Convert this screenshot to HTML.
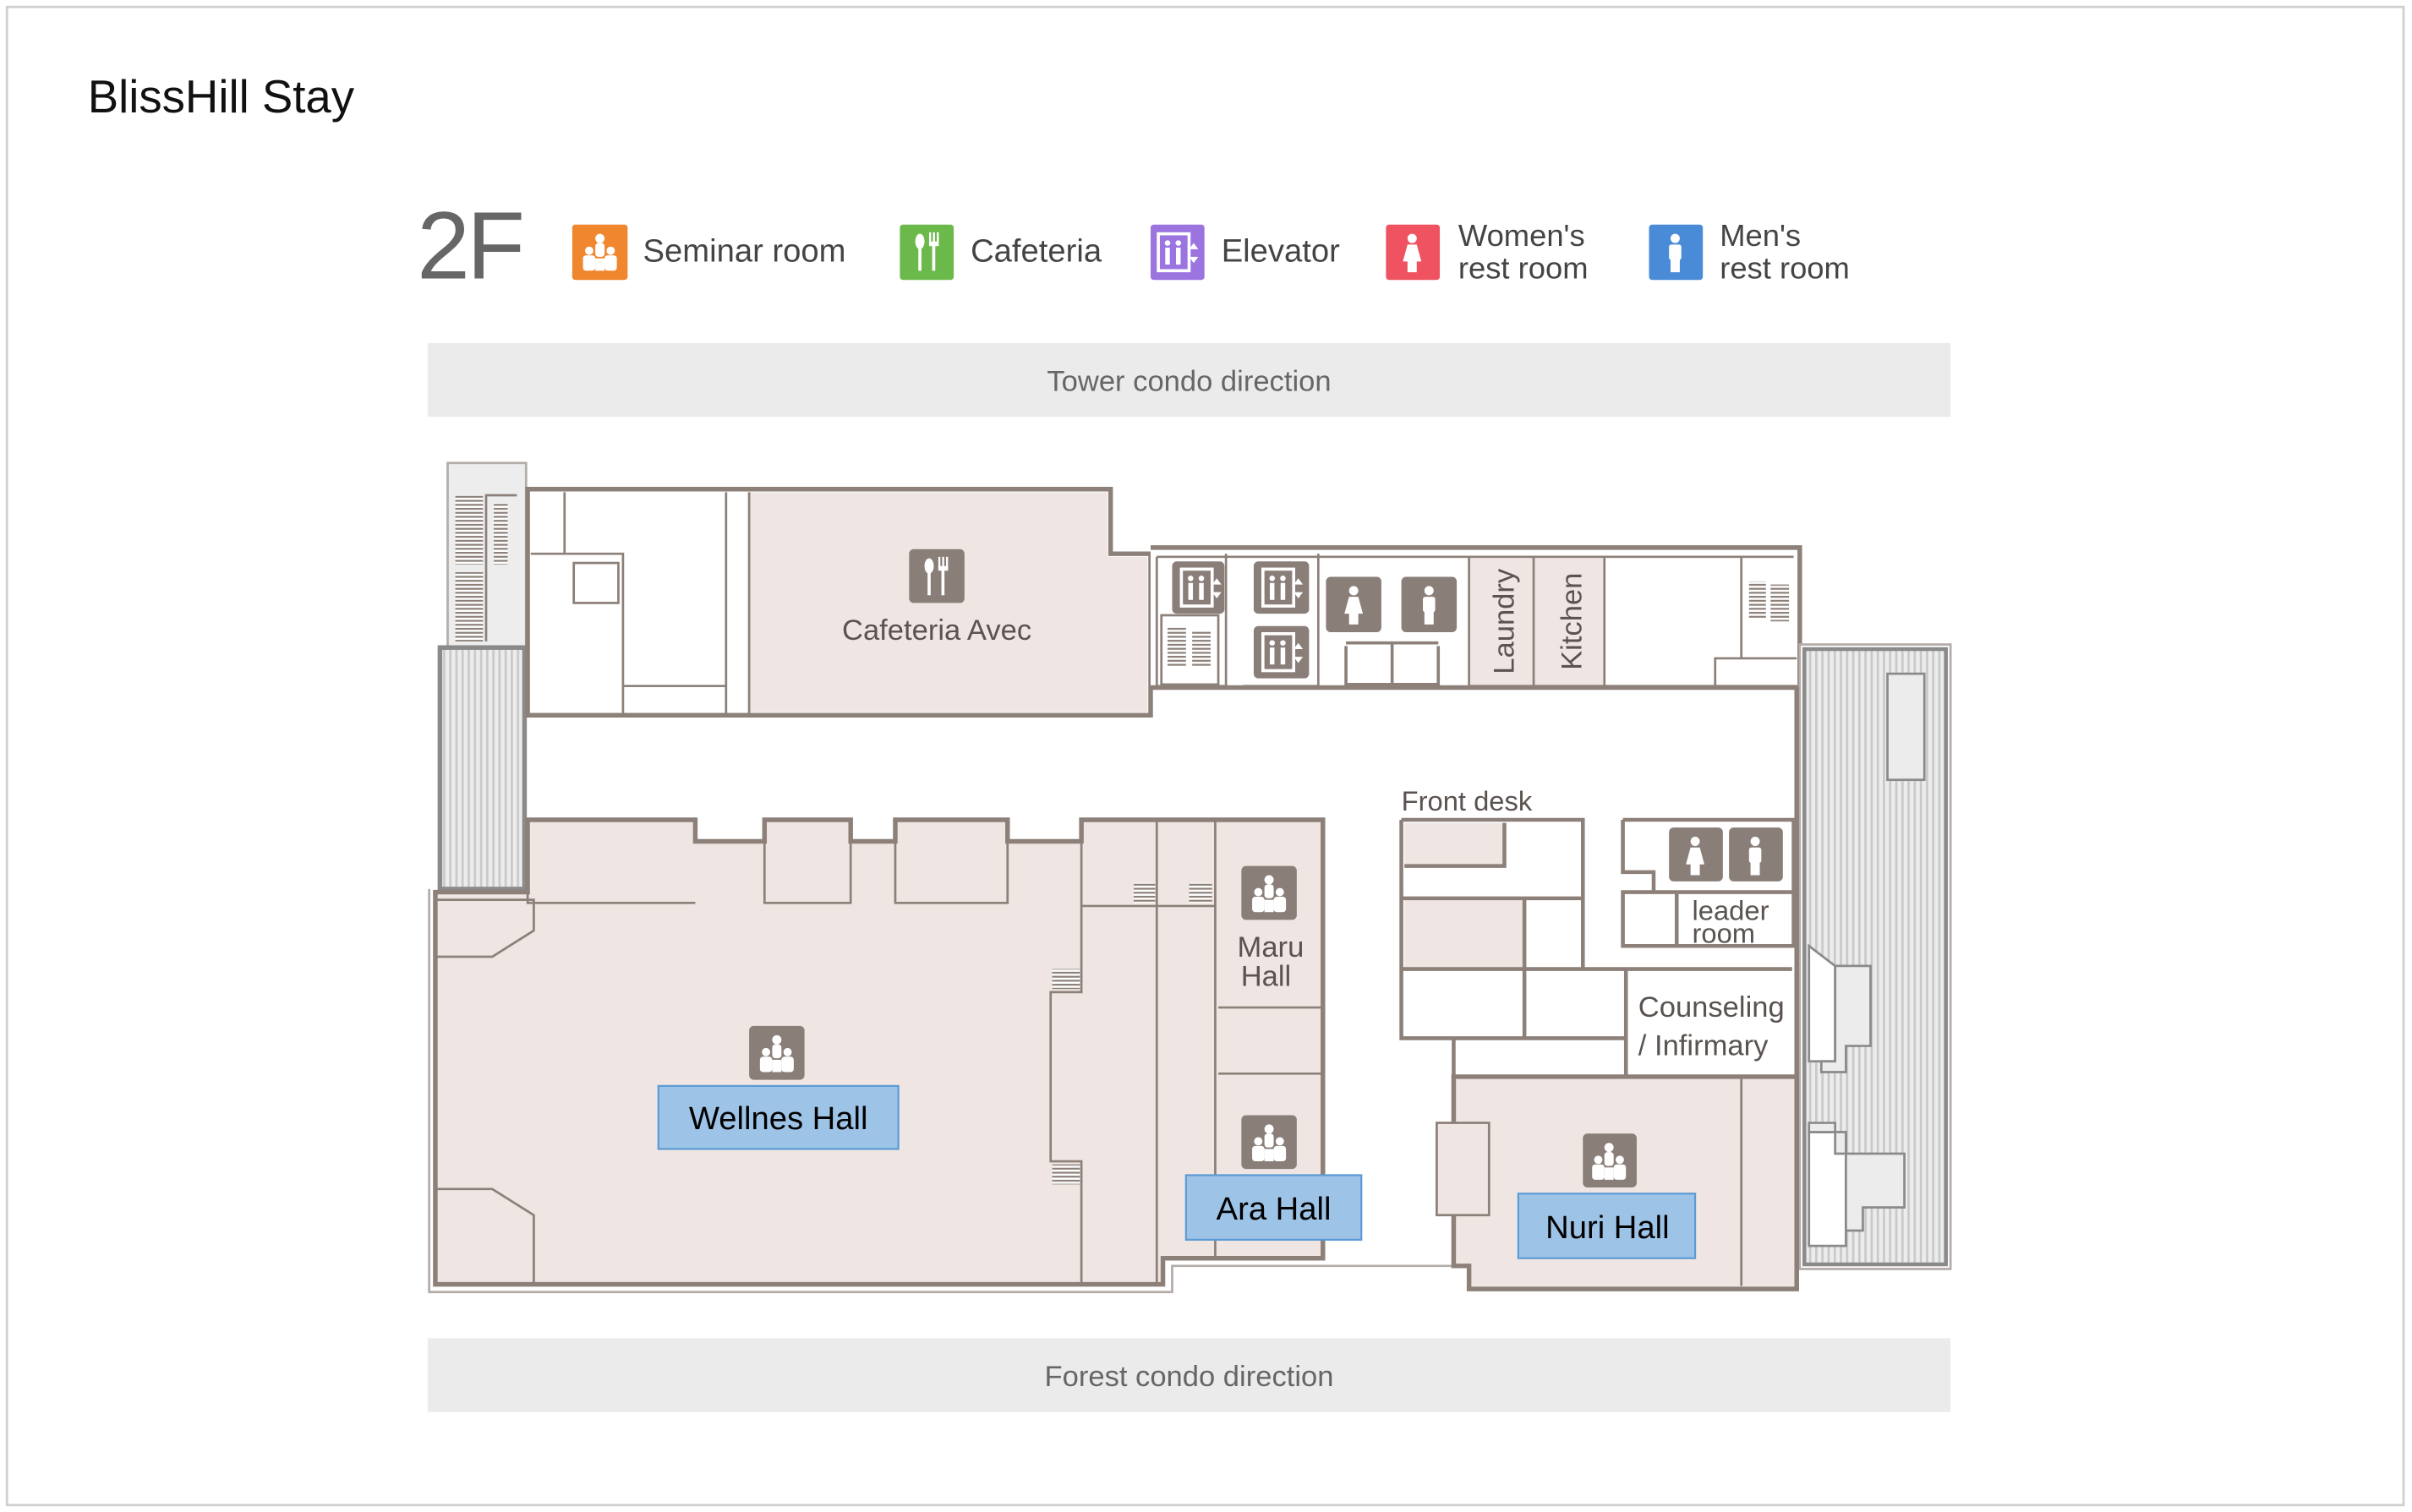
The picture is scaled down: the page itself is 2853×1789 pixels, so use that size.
<!DOCTYPE html>
<html><head><meta charset="utf-8"><style>
html,body{margin:0;padding:0;background:#fff;}
svg{display:block;}
text{font-family:"Liberation Sans","DejaVu Sans",sans-serif;}
</style></head><body>
<svg width="2853" height="1789" viewBox="0 0 1568 983" preserveAspectRatio="none" xmlns="http://www.w3.org/2000/svg">
<defs>
<pattern id="hatch" width="4" height="10" patternUnits="userSpaceOnUse">
<rect width="4" height="10" fill="#ececec"/><rect width="1.5" height="10" fill="#c9c9c9"/>
</pattern>
<pattern id="hz" width="10" height="2.6" patternUnits="userSpaceOnUse">
<rect width="10" height="2.6" fill="#fff"/><rect width="10" height="1.2" fill="#8c8079"/>
</pattern>
<g id="sem"><circle cx="18" cy="9" r="3" fill="#fff"/><rect x="15" y="12" width="6" height="9" rx="2" fill="#fff"/><circle cx="11" cy="17" r="2.7" fill="#fff"/><circle cx="25" cy="17" r="2.7" fill="#fff"/><rect x="7" y="20" width="8" height="10" rx="2" fill="#fff"/><rect x="21" y="20" width="8" height="10" rx="2" fill="#fff"/><rect x="15" y="22" width="6" height="8" fill="#fff"/></g>
<g id="cafe"><ellipse cx="13" cy="11" rx="3" ry="5" fill="#fff"/><rect x="12" y="14" width="2" height="16" fill="#fff"/><rect x="19" y="5" width="1.3" height="8" fill="#fff"/><rect x="21.5" y="5" width="1.3" height="8" fill="#fff"/><rect x="24" y="5" width="1.3" height="8" fill="#fff"/><rect x="19" y="11" width="6.3" height="3" fill="#fff"/><rect x="21" y="13" width="2" height="17" fill="#fff"/></g>
<g id="elev"><rect x="5" y="6" width="20" height="24" fill="none" stroke="#fff" stroke-width="2"/><circle cx="11" cy="12" r="1.8" fill="#fff"/><circle cx="18" cy="12" r="1.8" fill="#fff"/><rect x="9.5" y="15" width="3" height="11" fill="#fff"/><rect x="16.5" y="15" width="3" height="11" fill="#fff"/><path d="M28 12 l3 4 h-6z M28 25 l3 -4 h-6z" fill="#fff"/></g>
<g id="wom"><circle cx="18" cy="9" r="3" fill="#fff"/><path d="M15 13 h6 l3 11 h-3 v7 h-6 v-7 h-3z" fill="#fff"/></g>
<g id="man"><circle cx="18" cy="9" r="3" fill="#fff"/><rect x="14" y="13" width="8" height="10" rx="1.5" fill="#fff"/><rect x="15" y="22" width="6" height="9" fill="#fff"/></g>
</defs>
<rect x="0" y="0" width="1568" height="983" fill="#fff"/>
<rect x="4.5" y="4.5" width="1558" height="974" fill="none" stroke="#cfcfcf" stroke-width="1.5"/>
<text x="57" y="73" font-size="30" fill="#111">BlissHill Stay</text>

<!-- legend -->
<text x="271" y="181" font-size="62" fill="#666" letter-spacing="-2">2F</text>
<rect x="372" y="146" width="36" height="36" rx="2" fill="#f0862e"/><use href="#sem" x="372" y="146"/>
<text x="418" y="170" font-size="21" fill="#444">Seminar room</text>
<rect x="585" y="146" width="35" height="36" rx="2" fill="#6cb94b"/><use href="#cafe" x="585" y="146"/>
<text x="631" y="170" font-size="21" fill="#444">Cafeteria</text>
<rect x="748" y="146" width="35" height="36" rx="2" fill="#9b74e0"/><use href="#elev" x="748" y="146"/>
<text x="794" y="170" font-size="21" fill="#444">Elevator</text>
<rect x="901" y="146" width="35" height="36" rx="2" fill="#ef5361"/><use href="#wom" x="900" y="146"/>
<text x="948" y="160" font-size="20" fill="#444">Women's</text><text x="948" y="181" font-size="20" fill="#444">rest room</text>
<rect x="1072" y="146" width="35" height="36" rx="2" fill="#4a8bd8"/><use href="#man" x="1071" y="146"/>
<text x="1118" y="160" font-size="20" fill="#444">Men's</text><text x="1118" y="181" font-size="20" fill="#444">rest room</text>

<rect x="278" y="223" width="990" height="48" fill="#ebebeb"/>
<text x="773" y="254" font-size="19" fill="#666" text-anchor="middle">Tower condo direction</text>
<rect x="278" y="870" width="990" height="48" fill="#ebebeb"/>
<text x="773" y="901" font-size="19" fill="#666" text-anchor="middle">Forest condo direction</text>

<g stroke="#8c8079" fill="none">
<!-- left tower stair -->
<rect x="291" y="301" width="51" height="120" fill="#ededed" stroke="#b3aca8" stroke-width="1.5"/>
<rect x="296" y="322" width="18" height="45" fill="url(#hz)" stroke="none"/>
<rect x="296" y="372" width="18" height="45" fill="url(#hz)" stroke="none"/>
<rect x="321" y="327" width="9" height="40" fill="url(#hz)" stroke="none"/>
<path d="M316 417 V322 H336" stroke-width="1.5"/>
<rect x="286" y="421" width="55" height="157" fill="url(#hatch)" stroke="#8a8a8a" stroke-width="3"/>

<!-- top-left block -->
<path d="M343 318 H722 V360 H748 V465 H343 Z" fill="#fff" stroke-width="3"/>
<path d="M487 320 H720 V362 H746 V463 H487 Z" fill="#efe6e3" stroke="none"/>
<path d="M367 320 V360 M345 360 H405 V465 M405 446 H472 M472 320 V465 M487 320 V465" stroke-width="1.5"/>
<rect x="373" y="366" width="29" height="26" stroke-width="1.5"/>

<!-- top-right block -->
<path d="M748 356 H1170 V447 H748" fill="#fff" stroke-width="3"/>
<rect x="955" y="362" width="88" height="84" fill="#efe6e3" stroke="none"/>
<path d="M752 362 H1166 M752 362 V446 M797 360 V446 M857 360 V446 M955 362 V446 M997 362 V446 M1043 362 V446 M752 446 H797 M808 446 H857 M955 446 H1168 M1132 362 V428 M1115 446 V428 H1168" stroke-width="1.5"/>
<rect x="755" y="400" width="37" height="45" fill="#fff" stroke-width="1.5"/>
<rect x="759" y="408" width="12" height="26" fill="url(#hz)" stroke="none"/><rect x="775" y="410" width="12" height="24" fill="url(#hz)" stroke="none"/>
<rect x="1137" y="378" width="11" height="24" fill="url(#hz)" stroke="none"/><rect x="1151" y="380" width="12" height="24" fill="url(#hz)" stroke="none"/>
<path d="M875 418 H935 M875 420 V445 H935 V420 M905 418 V445" stroke-width="2"/>
</g>
<rect x="762" y="365" width="34" height="34" rx="3" fill="#8a7e78"/><use href="#elev" x="763" y="364" transform="scale(1)"/>
<rect x="815" y="365" width="36" height="34" rx="3" fill="#8a7e78"/><use href="#elev" x="816" y="364"/>
<rect x="815" y="407" width="36" height="34" rx="3" fill="#8a7e78"/><use href="#elev" x="816" y="406"/>
<rect x="862" y="375" width="36" height="36" rx="3" fill="#8a7e78"/><use href="#wom" x="862" y="375"/>
<rect x="911" y="375" width="36" height="36" rx="3" fill="#8a7e78"/><use href="#man" x="911" y="375"/>
<text transform="translate(984,404) rotate(-90)" font-size="19" fill="#5a5350" text-anchor="middle">Laundry</text>
<text transform="translate(1028,404) rotate(-90)" font-size="19" fill="#5a5350" text-anchor="middle">Kitchen</text>
<rect x="591" y="357" width="36" height="35" rx="3" fill="#8a7e78"/><use href="#cafe" x="591" y="357"/>
<text x="609" y="416" font-size="19" fill="#5a5350" text-anchor="middle">Cafeteria Avec</text>

<!-- right terrace -->
<rect x="1170" y="419" width="98" height="406" fill="#fff" stroke="#b3aca8" stroke-width="1.5"/>
<rect x="1173" y="422" width="92" height="400" fill="url(#hatch)" stroke="#8a8a8a" stroke-width="2.5"/>
<rect x="1227" y="438" width="24" height="69" fill="#ececec" stroke="#8a8a8a" stroke-width="1.5"/>
<path d="M1176 615 L1193 628 V690 H1176 Z" fill="#fff" stroke="#8a8a8a" stroke-width="1.5"/>
<path d="M1193 628 H1216 V680 H1200 V697 H1184 V690 H1193 Z" fill="#ececec" stroke="#8a8a8a" stroke-width="1.5"/>
<path d="M1176 736 H1200 V810 H1176 Z" fill="#fff" stroke="#8a8a8a" stroke-width="1.5"/>
<path d="M1176 730 H1193 V750 H1238 V785 H1211 V800 H1200 V736 H1176 Z" fill="#ececec" stroke="#8a8a8a" stroke-width="1.5"/>

<g stroke="#8c8079" fill="none">
<!-- corridor outlines -->
<path d="M1168 447 V838" stroke-width="3"/>
<path d="M279 578 V840 H762 V823 H945" stroke="#b3aca8" stroke-width="1.5"/>
<!-- wellness block -->
<path d="M283 580 H343 V533 H452 V547 H497 V533 H553 V547 H582 V533 H655 V547 H703 V533 H860 V818 H756 V835 H283 Z" fill="#efe6e3" stroke-width="3"/>
<path d="M343 533 V587 H452 M497 547 V587 H553 V547 M582 547 V587 H655 V547 M283 585 H347 V605 L320 622 H283 M283 773 H320 L347 790 V835" stroke-width="1.5"/>
<path d="M703 533 V645 H683 V755 H703 V835 M752 533 V835 M703 589 H790 M790 533 V818 M792 655 H860 M792 698 H860" stroke-width="1.5"/>
<rect x="737" y="574" width="14" height="13" fill="url(#hz)" stroke="none"/>
<rect x="773" y="574" width="15" height="13" fill="url(#hz)" stroke="none"/>
<rect x="684" y="630" width="18" height="13" fill="url(#hz)" stroke="none"/>
<rect x="684" y="757" width="18" height="13" fill="url(#hz)" stroke="none"/>

<!-- front desk block -->
<rect x="913" y="535" width="65" height="28" fill="#efe6e3" stroke="none"/>
<rect x="913" y="584" width="78" height="46" fill="#efe6e3" stroke="none"/>
<path d="M911 533 H1029 V630 M911 533 V675 H1057 M913 563 H978 V535 M911 584 H1029 M991 584 V675 M911 630 H1165 M1057 630 V700 M945 675 V700 H1165" stroke-width="2.5"/>
<path d="M1055 533 H1166 V615 H1055 V580 H1166 M1055 533 V567 H1075 V580 M1090 580 V615" stroke-width="2.5"/>
<!-- nuri block -->
<path d="M945 700 H1168 V838 H955 V823 H945 Z" fill="#efe6e3" stroke-width="3"/>
<rect x="934" y="730" width="34" height="60" fill="#efe6e3" stroke-width="1.5"/>
<path d="M1132 700 V836" stroke-width="1.5"/>
</g>
<text x="911" y="527" font-size="18" fill="#5a5350">Front desk</text>
<rect x="1085" y="538" width="35" height="35" rx="3" fill="#8a7e78"/><use href="#wom" x="1084" y="538"/>
<rect x="1124" y="538" width="35" height="35" rx="3" fill="#8a7e78"/><use href="#man" x="1123" y="538"/>
<text x="1100" y="598" font-size="18" fill="#5a5350">leader</text>
<text x="1100" y="613" font-size="18" fill="#5a5350">room</text>
<text x="1065" y="661" font-size="19" fill="#5a5350">Counseling</text>
<text x="1065" y="686" font-size="19" fill="#5a5350">/ Infirmary</text>

<rect x="807" y="563" width="36" height="35" rx="3" fill="#8a7e78"/><use href="#sem" x="807" y="563"/>
<text x="826" y="622" font-size="19" fill="#5a5350" text-anchor="middle">Maru</text>
<text x="823" y="641" font-size="19" fill="#5a5350" text-anchor="middle">Hall</text>
<rect x="807" y="725" width="36" height="35" rx="3" fill="#8a7e78"/><use href="#sem" x="807" y="725"/>
<rect x="487" y="667" width="36" height="35" rx="3" fill="#8a7e78"/><use href="#sem" x="487" y="667"/>
<rect x="1029" y="737" width="35" height="35" rx="3" fill="#8a7e78"/><use href="#sem" x="1028" y="737"/>

<rect x="428" y="706" width="156" height="41" fill="#9dc3e6" stroke="#5b9bd5" stroke-width="1.2"/>
<text x="506" y="734" font-size="21" fill="#000" text-anchor="middle">Wellnes Hall</text>
<rect x="771" y="764" width="114" height="42" fill="#9dc3e6" stroke="#5b9bd5" stroke-width="1.2"/>
<text x="828" y="793" font-size="21" fill="#000" text-anchor="middle">Ara Hall</text>
<rect x="987" y="776" width="115" height="42" fill="#9dc3e6" stroke="#5b9bd5" stroke-width="1.2"/>
<text x="1045" y="805" font-size="21" fill="#000" text-anchor="middle">Nuri Hall</text>
</svg>
</body></html>
